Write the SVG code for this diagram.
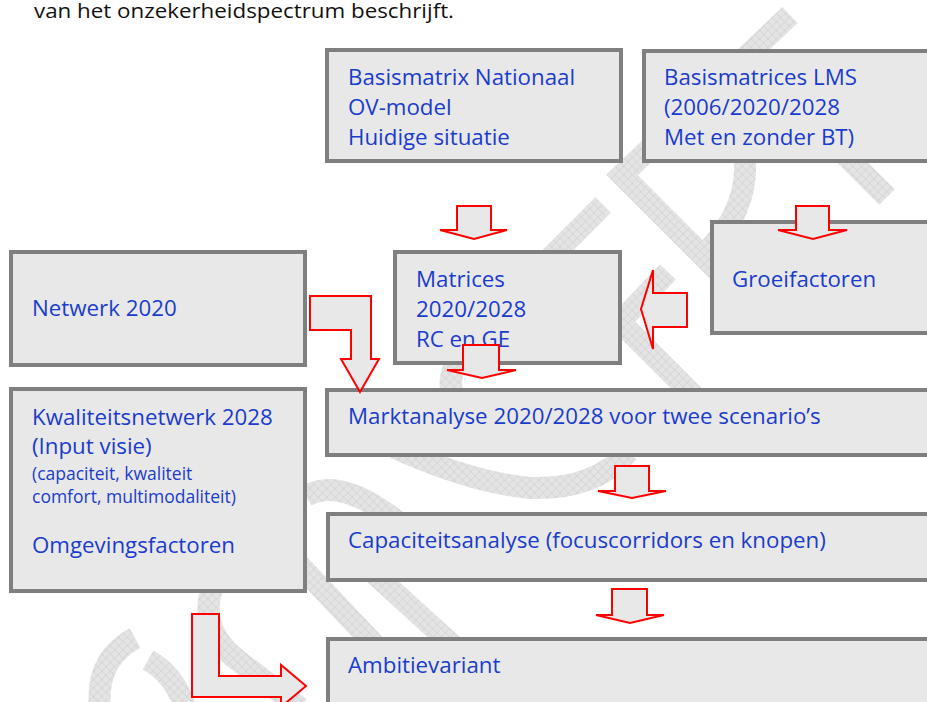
<svg xmlns="http://www.w3.org/2000/svg" width="927" height="702" viewBox="0 0 927 702">
<defs>
<pattern id="hatch" width="6" height="6" patternUnits="userSpaceOnUse" patternTransform="rotate(45)">
<rect width="6" height="6" fill="#e4e4e4"/>
<path d="M0,0H6M0,0V6" stroke="#cdcdcd" stroke-width="1"/>
</pattern>
<style>
.wm{fill:none;stroke:url(#hatch);stroke-width:22;stroke-linejoin:miter;stroke-linecap:butt}
.box{fill:#e8e8e8;stroke:#7f7f7f;stroke-width:4}
.t{font-family:"Open Sans","Noto Sans",sans-serif;font-size:22.3px;fill:#1a3ccc}
.s{font-size:17.5px}
.arr{fill:#e8e8e8;stroke:#ff0000;stroke-width:2;stroke-linejoin:miter}
.hdr{font-family:"Open Sans","Noto Sans",sans-serif;font-size:20px;fill:#111111}
</style>
</defs>
<rect width="927" height="702" fill="#ffffff"/>
<g id="watermark">
<path class="wm" d="M790,15 L622,175 L735,288"/>
<path class="wm" d="M745,160 Q748,215 700,258"/>
<path class="wm" d="M780,90 L887,197"/>
<path class="wm" d="M603,205 L520,288"/>
<path class="wm" d="M668,272 L620,322 L722,424"/>
<path class="wm" d="M478,338 Q440,370 455,402"/>
<path class="wm" d="M395,448 Q470,482 530,488 Q595,490 628,452"/>
<path class="wm" d="M306,496 Q340,476 398,522"/>
<path class="wm" d="M290,555 L375,645"/>
<path class="wm" d="M368,568 L460,652"/>
<path class="wm" d="M212,588 Q198,632 240,662 L300,708"/>
<path class="wm" d="M135,638 Q95,660 100,708"/>
<path class="wm" d="M148,660 Q175,675 185,708"/>
</g>
<text class="hdr" x="34" y="18" textLength="420" lengthAdjust="spacingAndGlyphs">van het onzekerheidspectrum beschrijft.</text>
<g id="n-basismatrix">
<rect class="box" x="327" y="50" width="294" height="111"/>
<text class="t" x="348" y="85">Basismatrix Nationaal</text>
<text class="t" x="348" y="115">OV-model</text>
<text class="t" x="348" y="145">Huidige situatie</text>
</g>
<g id="n-lms">
<rect class="box" x="644" y="51" width="300" height="110"/>
<text class="t" x="664" y="85">Basismatrices LMS</text>
<text class="t" x="664" y="115">(2006/2020/2028</text>
<text class="t" x="664" y="145">Met en zonder BT)</text>
</g>
<g id="n-groei">
<rect class="box" x="712" y="222" width="240" height="111"/>
<text class="t" x="732" y="287">Groeifactoren</text>
</g>
<g id="n-matrices">
<rect class="box" x="395" y="252" width="225" height="111"/>
<text class="t" x="416" y="287">Matrices</text>
<text class="t" x="416" y="317">2020/2028</text>
<text class="t" x="416" y="347">RC en GE</text>
</g>
<g id="n-netwerk">
<rect class="box" x="11" y="252" width="294" height="113"/>
<text class="t" x="32" y="316">Netwerk 2020</text>
</g>
<g id="n-kwaliteit">
<rect class="box" x="11" y="389" width="294" height="202"/>
<text class="t" x="32" y="425">Kwaliteitsnetwerk 2028</text>
<text class="t" x="32" y="454">(Input visie)</text>
<text class="t s" x="32" y="480">(capaciteit, kwaliteit</text>
<text class="t s" x="32" y="503">comfort, multimodaliteit)</text>
<text class="t" x="32" y="553">Omgevingsfactoren</text>
</g>
<g id="n-markt">
<rect class="box" x="327" y="390" width="620" height="65"/>
<text class="t" x="348" y="424">Marktanalyse 2020/2028 voor twee scenario’s</text>
</g>
<g id="n-capac">
<rect class="box" x="328" y="514" width="620" height="66"/>
<text class="t" x="348" y="548">Capaciteitsanalyse (focuscorridors en knopen)</text>
</g>
<g id="n-ambitie">
<rect class="box" x="328" y="639" width="620" height="80"/>
<text class="t" x="348" y="673">Ambitievariant</text>
</g>
<g id="connectors">
<polygon class="arr" points="457,206 491,206 491,230 507,230 474,239 440,230 457,230"/>
<polygon class="arr" points="796,206 829,206 829,230 847,230 813,239 778,230 796,230"/>
<polygon class="arr" points="463,345 499,345 499,370 516,370 482,378 447,370 463,370"/>
<polygon class="arr" points="615,466 649,466 649,491 666,491 632,498 598,491 615,491"/>
<polygon class="arr" points="612,589 647,589 647,615 664,615 630,623 596,615 612,615"/>
<polygon class="arr" points="687,293 653,293 653,270 641,309 653,349 653,327 687,327"/>
<polygon class="arr" points="310,296 371,296 371,359 379,359 360,392 341,359 351,359 351,330 310,330"/>
<polygon class="arr" points="192,614 219,614 219,676 281,676 281,665 306,686 281,707 281,697 192,697"/>
</g>
</svg>
